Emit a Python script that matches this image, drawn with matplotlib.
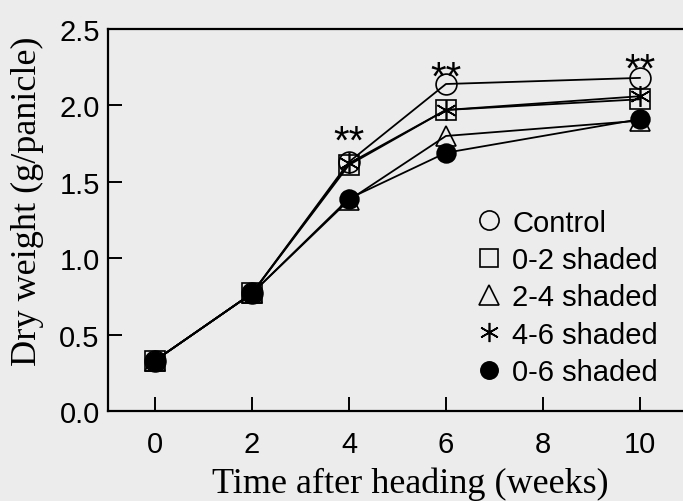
import matplotlib.pyplot as plt

# dry weight per panicle (g) at each sampling time
weeks = [0, 2, 4, 6, 10]
control = [0.33, 0.77, 1.63, 2.14, 2.18]
shade_0_2 = [0.33, 0.77, 1.61, 1.97, 2.04]
shade_2_4 = [0.33, 0.77, 1.38, 1.80, 1.90]
shade_4_6 = [0.33, 0.77, 1.62, 1.97, 2.06]
shade_0_6 = [0.33, 0.77, 1.39, 1.69, 1.91]

# significance marks above the control points
sig_weeks = [4, 6, 10]
sig_labels = ["**", "**", "**"]

series = [
    ("Control", control, "o", "none", 15),
    ("0-2 shaded", shade_0_2, "s", "none", 14.5),
    ("2-4 shaded", shade_2_4, "^", "none", 15),
    ("4-6 shaded", shade_4_6, (6, 2, 0), "k", 15),
    ("0-6 shaded", shade_0_6, "o", "k", 13.5),
]

bg = "#ececec"
W, H = 683, 502
fig = plt.figure(figsize=(W / 100, H / 100), dpi=100, facecolor=bg)
# axes runs past the right edge, so only the left, top and bottom frame show
ax = fig.add_axes([108 / W, (H - 412) / H, 592 / W, 382 / H], facecolor=bg)

for name, vals, mk, fc, ms in series:
    ax.plot(weeks, vals, color="k", lw=1.3, marker=mk, markersize=ms,
            markerfacecolor=fc, markeredgecolor="k", markeredgewidth=1.2,
            label=name)

# baseline offset (points) of each "**" relative to its control point
star_dy = [7, -3, -2]
idx = {w: i for i, w in enumerate(weeks)}
for w, s, dy in zip(sig_weeks, sig_labels, star_dy):
    ax.annotate(s, (w, control[idx[w]]), xytext=(0, dy),
                textcoords="offset points", ha="center", va="baseline",
                fontsize=29, family="Liberation Sans")

ax.set_xlim(-0.97, 11.24)
ax.set_ylim(0, 2.5)
ax.set_xticks([0, 2, 4, 6, 8, 10])
ax.set_yticks([0.0, 0.5, 1.0, 1.5, 2.0, 2.5])
ax.set_yticklabels(["0.0", "0.5", "1.0", "1.5", "2.0", "2.5"])
ax.tick_params(direction="in", length=10, width=1.4, labelsize=21)
ax.tick_params(axis="x", pad=14)
ax.tick_params(axis="y", pad=6)
for lab in ax.get_xticklabels() + ax.get_yticklabels():
    lab.set_family("Liberation Sans")
for sp in ax.spines.values():
    sp.set_linewidth(1.6)

ax.set_xlabel("Time after heading (weeks)", family="Liberation Serif",
              fontsize=26)
ax.set_ylabel("Dry weight (g/panicle)", family="Liberation Serif",
              fontsize=26)
ax.xaxis.set_label_coords((410 - 108) / 592, -(484 - 412) / 382)
ax.yaxis.set_label_coords(-(108 - 27) / 592, (412 - 201) / 382)
ax.xaxis.label.set_va("center")
ax.yaxis.label.set_va("center")

leg = ax.legend(loc="upper left", bbox_to_anchor=(6.37, 1.42),
                bbox_transform=ax.transData, frameon=False,
                prop={"family": "Liberation Sans", "size": 21},
                handlelength=0.7, handletextpad=0.45, labelspacing=0.32,
                borderpad=0, markerscale=0.92)
for h in leg.legend_handles:
    h.set_linestyle("none")

fig.savefig("out.png", dpi=100, facecolor=bg)
